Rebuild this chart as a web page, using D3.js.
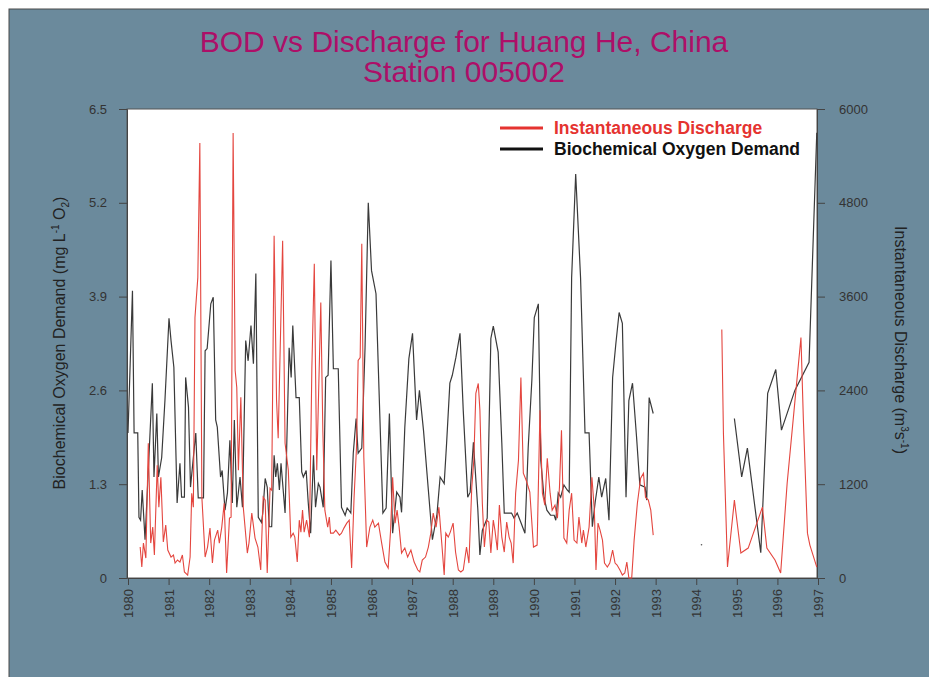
<!DOCTYPE html>
<html>
<head>
    <meta charset="UTF-8">
    <title>BOD vs Discharge</title>
    <style>
        body { margin: 0; background: #ffffff; }
        svg { display: block; font-family: "Liberation Sans", Arial, sans-serif; }
        .axis path, .axis line { stroke: #444; }
        .axis text { fill: #333; font-size: 13px; }
    </style>
</head>
<body>
<div id="graph-container"></div>
<script src="https://cdn.jsdelivr.net/npm/d3@7"></script>
<script>
    // [decimal year, BOD mg/L]  (null = no sample)
    const bodSeries = [
        [1980.00, 2.01], [1980.11, 3.98], [1980.15, 2.01], [1980.24, 2.01], [1980.27, 0.84], [1980.31, 0.80],
        [1980.35, 1.22], [1980.42, 0.53], [1980.50, 1.49], [1980.60, 2.70], [1980.64, 1.40], [1980.71, 2.28],
        [1980.75, 1.40], [1980.83, 1.67], [1980.91, 2.46], [1981.01, 3.60], [1981.06, 3.29], [1981.13, 2.92],
        [1981.21, 1.04], [1981.28, 1.59], [1981.32, 1.12], [1981.39, 1.12], [1981.42, 2.78], [1981.49, 2.37],
        [1981.54, 1.26], [1981.61, 1.67], [1981.67, 2.01], [1981.73, 1.11], [1981.86, 1.11], [1981.90, 3.15],
        [1981.95, 3.18], [1982.04, 3.80], [1982.10, 3.89], [1982.16, 2.19], [1982.20, 2.09], [1982.28, 1.40],
        [1982.32, 1.49], [1982.39, 0.94], [1982.45, 1.18], [1982.51, 1.91], [1982.57, 1.04], [1982.62, 2.19],
        [1982.68, 0.98], [1982.76, 1.40], [1982.82, 0.98], [1982.90, 3.29], [1982.96, 3.01], [1983.03, 3.50],
        [1983.09, 2.97], [1983.15, 4.22], [1983.21, 0.84], [1983.29, 0.77], [1983.32, 0.90], [1983.38, 1.38],
        [1983.43, 1.26], [1983.48, 0.71], [1983.54, 0.71], [1983.60, 1.70], [1983.64, 1.40], [1983.68, 1.59],
        [1983.73, 1.22], [1983.77, 1.59], [1983.87, 0.90], [1983.97, 3.19], [1984.02, 2.78], [1984.06, 3.50],
        [1984.14, 2.50], [1984.22, 2.50], [1984.28, 1.47], [1984.32, 1.40], [1984.39, 1.49], [1984.44, 1.05],
        [1984.50, 0.62], [1984.57, 1.70], [1984.62, 0.98], [1984.69, 1.31], [1984.73, 1.26], [1984.81, 0.98],
        [1984.87, 2.78], [1984.93, 2.81], [1985.00, 4.40], [1985.06, 2.90], [1985.18, 2.90], [1985.26, 0.98],
        [1985.35, 0.87], [1985.40, 0.97], [1985.49, 0.90], [1985.55, 1.73], [1985.62, 2.21], [1985.67, 1.73],
        [1985.76, 1.80], [1985.84, 3.19], [1985.92, 5.20], [1986.00, 4.26], [1986.11, 3.94], [1986.28, 0.90],
        [1986.36, 0.97], [1986.44, 2.28], [1986.52, 0.62], [1986.62, 1.19], [1986.70, 1.12], [1986.74, 0.91],
        [1986.82, 2.09], [1986.92, 3.04], [1987.01, 3.39], [1987.11, 2.19], [1987.18, 2.60], [1987.28, 2.05],
        [1987.40, 1.22], [1987.50, 0.53], [1987.61, 0.87], [1987.69, 1.40], [1987.79, 1.31], [1987.85, 1.87],
        [1987.93, 2.70], [1987.99, 2.81], [1988.08, 3.06], [1988.18, 3.39], [1988.26, 2.32], [1988.37, 1.12],
        [1988.43, 1.19], [1988.51, 1.88], [1988.62, 0.94], [1988.67, 0.32], [1988.73, 0.66], [1988.80, 0.76],
        [1988.85, 0.83], [1988.94, 3.32], [1989.00, 3.49], [1989.12, 3.13], [1989.21, 1.87], [1989.27, 0.90],
        [1989.45, 0.90], [1989.51, 0.83], [1989.59, 0.90], [1989.68, 0.77], [1989.78, 0.62], [1989.86, 1.81],
        [1989.95, 2.74], [1990.01, 3.61], [1990.11, 3.80], [1990.17, 1.63], [1990.25, 1.12], [1990.32, 0.94],
        [1990.41, 0.87], [1990.50, 0.87], [1990.54, 0.80], [1990.60, 1.18], [1990.66, 1.12], [1990.74, 1.29],
        [1990.82, 1.22], [1990.87, 1.19], [1990.93, 4.16], [1991.03, 5.60], [1991.15, 4.16], [1991.26, 2.01],
        [1991.36, 2.01], [1991.44, 0.71], [1991.51, 1.05], [1991.60, 1.40], [1991.67, 1.12], [1991.77, 1.38],
        [1991.85, 0.80], [1991.94, 2.78], [1992.02, 3.25], [1992.10, 3.68], [1992.18, 3.53], [1992.27, 1.12],
        [1992.34, 2.46], [1992.43, 2.70], [1992.53, 1.95], [1992.61, 1.29], [1992.74, 1.26], [1992.78, 1.08],
        [1992.84, 2.50], [1992.94, 2.28],
        [1993.50, null],
        [1994.13, 0.46],
        [1994.50, null],
        [1994.94, 2.21], [1995.12, 1.40], [1995.26, 1.80], [1995.59, 0.35], [1995.76, 2.56], [1995.96, 2.89],
        [1996.10, 2.05], [1996.43, 2.60], [1996.78, 2.99], [1996.97, 6.17]
    ];

    // [decimal year, instantaneous discharge m3/s]
    const flowSeries = [
        [1980.30, 396], [1980.34, 140], [1980.38, 447], [1980.44, 255], [1980.50, 1723], [1980.56, 447],
        [1980.61, 651], [1980.65, 294], [1980.72, 1443], [1980.76, 906], [1980.81, 1289], [1980.87, 460],
        [1980.93, 677], [1980.98, 357], [1981.06, 268], [1981.12, 294], [1981.16, 191], [1981.22, 230],
        [1981.28, 204], [1981.34, 294], [1981.39, 77], [1981.47, 38], [1981.53, 268], [1981.57, 1085],
        [1981.61, 906], [1981.65, 3332], [1981.72, 3843], [1981.77, 5566], [1981.82, 1034], [1981.90, 268],
        [1981.96, 396], [1982.02, 638], [1982.08, 191], [1982.13, 485], [1982.21, 613], [1982.25, 447],
        [1982.31, 651], [1982.37, 957], [1982.43, 64], [1982.50, 766], [1982.54, 779], [1982.59, 5694],
        [1982.64, 2655], [1982.68, 2438], [1982.72, 1379], [1982.78, 2311], [1982.84, 906], [1982.94, 319],
        [1982.98, 447], [1983.05, 830], [1983.13, 511], [1983.20, 396], [1983.27, 102], [1983.33, 1034],
        [1983.38, 996], [1983.43, 64], [1983.50, 1149], [1983.54, 1123], [1983.60, 4379], [1983.66, 2272],
        [1983.70, 1787], [1983.81, 4315], [1983.87, 1723], [1983.95, 1379], [1984.01, 523], [1984.07, 574],
        [1984.11, 523], [1984.17, 204], [1984.22, 740], [1984.26, 587], [1984.30, 868], [1984.34, 587],
        [1984.40, 740], [1984.47, 523], [1984.53, 2694], [1984.59, 4021], [1984.65, 1379], [1984.75, 3523],
        [1984.80, 1889], [1984.85, 868], [1984.92, 651], [1984.96, 779], [1984.99, 574], [1985.06, 574],
        [1985.12, 613], [1985.21, 549], [1985.26, 574], [1985.32, 638], [1985.39, 702], [1985.45, 740],
        [1985.51, 128], [1985.57, 1034], [1985.63, 1672], [1985.67, 2783], [1985.72, 2821], [1985.76, 4277],
        [1985.81, 1545], [1985.88, 396], [1985.96, 651], [1986.03, 740], [1986.08, 651], [1986.17, 702],
        [1986.25, 447], [1986.33, 204], [1986.41, 128], [1986.47, 613], [1986.52, 1289], [1986.58, 702],
        [1986.63, 868], [1986.68, 651], [1986.74, 319], [1986.82, 383], [1986.89, 268], [1986.97, 357],
        [1987.05, 204], [1987.14, 102], [1987.19, 77], [1987.25, 230], [1987.33, 268], [1987.40, 396],
        [1987.46, 574], [1987.52, 830], [1987.59, 651], [1987.66, 906], [1987.73, 447], [1987.79, 38],
        [1987.83, 574], [1987.89, 523], [1987.94, 587], [1988.01, 702], [1988.07, 332], [1988.14, 102],
        [1988.20, 77], [1988.26, 102], [1988.34, 396], [1988.40, 191], [1988.47, 1162], [1988.52, 1506],
        [1988.57, 2362], [1988.63, 2489], [1988.67, 2145], [1988.73, 957], [1988.78, 396], [1988.84, 740],
        [1988.89, 715], [1988.94, 319], [1989.00, 740], [1989.04, 613], [1989.10, 357], [1989.15, 932],
        [1989.21, 523], [1989.27, 332], [1989.33, 715], [1989.39, 523], [1989.44, 447], [1989.49, 191],
        [1989.55, 1085], [1989.62, 1506], [1989.68, 2566], [1989.74, 1340], [1989.81, 1251], [1989.90, 1100],
        [1989.99, 396], [1990.08, 421], [1990.15, 2145], [1990.21, 1085], [1990.27, 932], [1990.33, 1532],
        [1990.40, 1085], [1990.45, 868], [1990.52, 932], [1990.58, 766], [1990.63, 1162], [1990.68, 1889],
        [1990.74, 511], [1990.81, 447], [1990.87, 868], [1990.93, 1085], [1990.99, 485], [1991.06, 447],
        [1991.11, 779], [1991.18, 447], [1991.22, 613], [1991.28, 396], [1991.36, 651], [1991.43, 1289],
        [1991.49, 868], [1991.53, 102], [1991.58, 702], [1991.63, 613], [1991.69, 485], [1991.74, 191],
        [1991.81, 140], [1991.87, 191], [1991.94, 357], [1992.00, 191], [1992.05, 166], [1992.12, 102],
        [1992.18, 38], [1992.24, 64], [1992.29, 204], [1992.34, 0], [1992.41, 0], [1992.47, 485],
        [1992.55, 957], [1992.63, 1277], [1992.70, 1340], [1992.75, 1034], [1992.82, 996], [1992.88, 868],
        [1992.94, 549],
        [1993.80, null],
        [1994.63, 3179], [1994.67, 1851], [1994.77, 140], [1994.94, 996], [1995.10, 319], [1995.28, 383],
        [1995.63, 906], [1995.74, 383], [1995.94, 230], [1996.08, 64], [1996.24, 1213], [1996.41, 2145],
        [1996.58, 3077], [1996.64, 2017], [1996.74, 574], [1996.80, 421], [1996.97, 140]
    ];

    const years = d3.range(1980, 1998);
    const bodTicks = [0, 1.3, 2.6, 3.9, 5.2, 6.5];
    const flowTicks = [0, 1200, 2400, 3600, 4800, 6000];
    const titleLines = ["BOD vs Discharge for Huang He, China", "Station 005002"];

    const W = 929, H = 677;
    const plot = { left: 127, right: 817, top: 109, bottom: 578 };

    const svg = d3.select("#graph-container").append("svg")
        .attr("width", W)
        .attr("height", H);

    // outer panel
    svg.append("rect")
        .attr("x", 9).attr("y", 9)
        .attr("width", W).attr("height", H)
        .attr("fill", "#6b8a9c")
        .attr("stroke", "#4a4a4a");

    // plot area
    svg.append("rect")
        .attr("x", plot.left).attr("y", plot.top)
        .attr("width", plot.right - plot.left).attr("height", plot.bottom - plot.top)
        .attr("fill", "#ffffff")
        .attr("stroke", "#555");

    let x = d3.scaleLinear().domain([1980, 1997]).range([128, 818]);
    let yBod = d3.scaleLinear().domain([0, 6.5]).range([plot.bottom, plot.top]);
    let yFlow = d3.scaleLinear().domain([0, 6000]).range([plot.bottom, plot.top]);

    // title
    svg.append("text")
        .attr("x", 464).attr("y", 52)
        .attr("text-anchor", "middle")
        .attr("font-size", 30)
        .attr("fill", "#ad0f68")
        .selectAll("tspan")
        .data(titleLines)
        .enter().append("tspan")
        .attr("x", 464)
        .attr("dy", (d, i) => i === 0 ? 0 : 30)
        .text(d => d);

    // axes
    svg.append("g")
        .attr("class", "axis")
        .attr("transform", "translate(" + plot.left + ",0)")
        .call(d3.axisLeft(yBod).tickValues(bodTicks).tickSize(8).tickPadding(12)
            .tickFormat(d => d === 0 ? "0" : d.toFixed(1)));

    svg.append("g")
        .attr("class", "axis")
        .attr("transform", "translate(" + plot.right + ",0)")
        .call(d3.axisRight(yFlow).tickValues(flowTicks).tickSize(8).tickPadding(14)
            .tickFormat(d3.format("d")));

    let xAxis = svg.append("g")
        .attr("class", "axis")
        .attr("transform", "translate(0," + plot.bottom + ")")
        .call(d3.axisBottom(x).tickValues(years).tickSize(7).tickFormat(d3.format("d")));
    xAxis.selectAll("text")
        .attr("transform", "rotate(-90)")
        .attr("text-anchor", "end")
        .attr("x", -11)
        .attr("y", 0)
        .attr("dy", "0.35em");

    // axis titles
    let leftTitle = svg.append("text")
        .attr("transform", "translate(65,343) rotate(-90)")
        .attr("text-anchor", "middle")
        .attr("font-size", 16)
        .attr("fill", "#222");
    leftTitle.append("tspan").text("Biochemical Oxygen Demand (mg L");
    leftTitle.append("tspan").attr("font-size", 10).attr("dy", -6).text("-1");
    leftTitle.append("tspan").attr("dy", 6).text(" O");
    leftTitle.append("tspan").attr("font-size", 10).attr("dy", 4).text("2");
    leftTitle.append("tspan").attr("dy", -4).text(")");

    let rightTitle = svg.append("text")
        .attr("transform", "translate(895,340) rotate(90)")
        .attr("text-anchor", "middle")
        .attr("font-size", 16)
        .attr("fill", "#222");
    rightTitle.append("tspan").text("Instantaneous Discharge (m");
    rightTitle.append("tspan").attr("font-size", 10).attr("dy", -6).text("3");
    rightTitle.append("tspan").attr("dy", 6).text("s");
    rightTitle.append("tspan").attr("font-size", 10).attr("dy", -6).text("-1");
    rightTitle.append("tspan").attr("dy", 6).text(")");

    // series
    let bodLine = d3.line()
        .defined(d => d[1] !== null)
        .x(d => x(d[0]))
        .y(d => yBod(d[1]));
    let flowLine = d3.line()
        .defined(d => d[1] !== null)
        .x(d => x(d[0]))
        .y(d => yFlow(d[1]));

    svg.append("path")
        .datum(bodSeries)
        .attr("fill", "none")
        .attr("stroke", "#3a3a3a")
        .attr("stroke-width", 1.2)
        .attr("d", bodLine);

    svg.append("path")
        .datum(flowSeries)
        .attr("fill", "none")
        .attr("stroke", "#e4463f")
        .attr("stroke-width", 1.1)
        .attr("d", flowLine);

    // lone samples (no neighbours to join)
    let lone = bodSeries.filter((d, i) => d[1] !== null &&
        (i === 0 || bodSeries[i - 1][1] === null) &&
        (i === bodSeries.length - 1 || bodSeries[i + 1][1] === null));
    svg.selectAll(".lone")
        .data(lone)
        .enter().append("circle")
        .attr("cx", d => x(d[0]))
        .attr("cy", d => yBod(d[1]))
        .attr("r", 0.8)
        .attr("fill", "#555");

    // legend
    const legendItems = [
        { label: "Instantaneous Discharge", color: "#e53330" },
        { label: "Biochemical Oxygen Demand", color: "#111" }
    ];
    let legend = svg.append("g").attr("transform", "translate(500,128)");
    legendItems.forEach((d, i) => {
        legend.append("line")
            .attr("x1", 0).attr("x2", 43)
            .attr("y1", i * 21).attr("y2", i * 21)
            .attr("stroke", d.color)
            .attr("stroke-width", 3);
        legend.append("text")
            .attr("x", 54).attr("y", i * 21 + 6)
            .attr("font-size", 17.5)
            .attr("font-weight", "bold")
            .attr("fill", d.color)
            .text(d.label);
    });
</script>
</body>
</html>
